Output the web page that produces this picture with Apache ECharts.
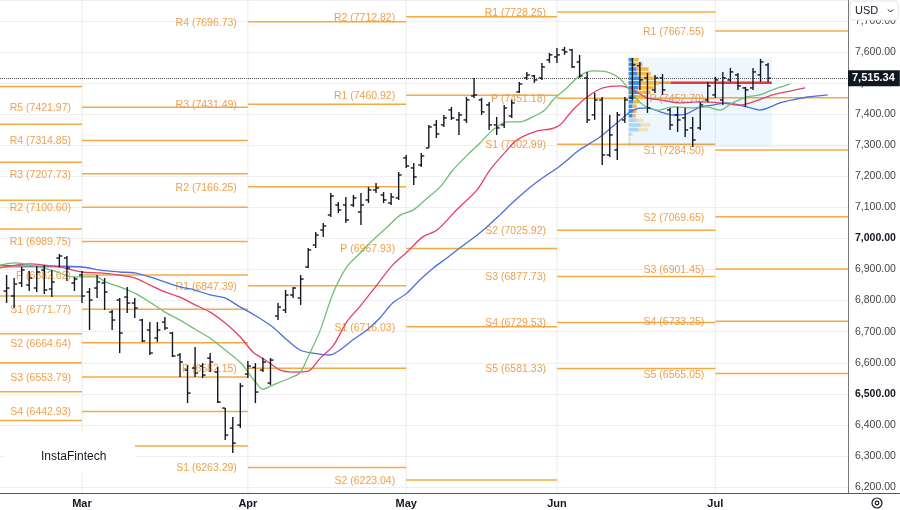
<!DOCTYPE html>
<html>
<head>
<meta charset="utf-8">
<script src="https://cdn.jsdelivr.net/npm/echarts@6/dist/echarts.min.js"></script>
<style>
  html, body { margin: 0; padding: 0; background: #fff; }
  #chart { width: 900px; height: 510px; }
</style>
</head>
<body>
<div id="chart"></div>
<script>
// bar index 0 = first trading day of March
var monthNames = ['Mar', 'Apr', 'May', 'Jun', 'Jul'];
var monthStart = [0, 22, 43, 63, 84];

var firstBar = -10;
var opens = [6830.7, 6814.7, 6856.5, 6850.1, 6840.4, 6898.4, 6837.2, 6937.0, 6937.0, 6856.5,
  6882.3, 6827.5, 6840.4, 6856.5, 6763.2, 6801.8, 6811.4, 6792.1, 6737.4, 6705.3, 6679.5, 6731.0,
  6695.6, 6624.8, 6576.5, 6583.0, 6589.4, 6615.1, 6570.1, 6454.2, 6389.8, 6399.5,
  6563.7, 6585.0, 6576.5, 6534.7, 6750.3, 6769.6, 6817.9, 6808.2, 6908.0, 6978.9, 7027.1,
  7075.4, 7107.6, 7107.6, 7107.6, 7085.1, 7123.7, 7155.9, 7139.8, 7114.0, 7130.1,
  7258.9, 7226.7, 7236.3, 7291.0, 7365.1, 7365.1, 7413.4, 7381.2, 7381.2, 7458.4,
  7445.5, 7429.4, 7365.1, 7365.1, 7394.0, 7471.3, 7516.3, 7522.8, 7516.3, 7574.3,
  7583.9, 7606.5, 7606.5, 7567.8, 7516.3, 7397.3, 7445.5, 7268.5, 7284.6, 7381.2,
  7452.0, 7555.0, 7516.3, 7477.7, 7516.3, 7413.4, 7397.3, 7387.6, 7355.4, 7355.4, 7445.5,
  7461.6, 7445.5, 7509.9, 7526.0, 7484.2, 7484.2, 7526.0, 7558.2];
var highs = [6882.3, 6872.6, 6908.0, 6895.1, 6911.2, 6914.5, 6898.4, 6949.9, 6943.4, 6875.8,
  6895.1, 6840.4, 6882.3, 6872.6, 6769.6, 6808.2, 6843.6, 6808.2, 6740.7, 6731.0, 6731.0, 6747.1,
  6698.9, 6631.2, 6592.6, 6650.5, 6599.0, 6631.2, 6586.2, 6454.2, 6425.2, 6534.7,
  6605.5, 6599.0, 6615.1, 6615.1, 6792.1, 6834.0, 6843.6, 6882.3, 6969.2, 7020.7, 7049.6,
  7146.2, 7117.2, 7133.3, 7139.8, 7146.2, 7165.5, 7178.4, 7149.4, 7146.2, 7213.8,
  7268.5, 7242.8, 7274.9, 7365.1, 7381.2, 7397.3, 7423.0, 7406.9, 7455.2, 7516.3,
  7452.0, 7439.1, 7390.8, 7429.4, 7445.5, 7503.5, 7535.7, 7526.0, 7564.6, 7596.8,
  7612.9, 7616.1, 7609.7, 7590.4, 7535.7, 7468.1, 7455.2, 7397.3, 7406.9, 7455.2,
  7580.7, 7567.8, 7532.4, 7526.0, 7529.2, 7419.8, 7423.0, 7419.8, 7390.8, 7439.1, 7503.5,
  7519.6, 7535.7, 7548.5, 7532.4, 7487.4, 7548.5, 7577.5, 7564.6];
var lows = [6792.1, 6776.1, 6843.6, 6830.7, 6827.5, 6821.1, 6811.4, 6908.0, 6862.9, 6830.7,
  6792.1, 6705.3, 6808.2, 6769.6, 6705.3, 6631.2, 6760.0, 6743.9, 6666.7, 6624.8, 6666.7, 6705.3,
  6618.4, 6554.0, 6470.3, 6554.0, 6550.8, 6570.1, 6470.3, 6351.2, 6309.4, 6389.8,
  6550.8, 6470.3, 6570.1, 6528.2, 6737.4, 6760.0, 6808.2, 6785.7, 6904.8, 6969.2, 7004.6,
  7069.0, 7081.8, 7049.6, 7101.1, 7043.2, 7114.0, 7146.2, 7114.0, 7107.6, 7123.7,
  7226.7, 7172.0, 7229.9, 7291.0, 7323.2, 7358.6, 7381.2, 7332.9, 7371.5, 7452.0,
  7397.3, 7349.0, 7332.9, 7355.4, 7387.6, 7468.1, 7509.9, 7500.3, 7509.9, 7564.6,
  7564.6, 7590.4, 7548.5, 7516.3, 7371.5, 7381.2, 7236.3, 7262.1, 7252.4, 7371.5,
  7445.5, 7477.7, 7403.7, 7468.1, 7461.6, 7349.0, 7342.5, 7326.5, 7294.3, 7349.0, 7439.1,
  7452.0, 7429.4, 7503.5, 7477.7, 7423.0, 7477.7, 7503.5, 7503.5];
var closes = [6840.4, 6853.3, 6898.4, 6872.6, 6891.9, 6834.0, 6859.7, 6943.4, 6904.8, 6869.4,
  6814.7, 6801.8, 6859.7, 6827.5, 6737.4, 6695.6, 6792.1, 6776.1, 6669.9, 6631.2, 6705.3, 6711.7,
  6621.6, 6602.3, 6502.5, 6566.9, 6560.4, 6602.3, 6473.6, 6367.3, 6341.6, 6525.0,
  6589.4, 6505.7, 6602.3, 6608.7, 6779.3, 6817.9, 6840.4, 6869.4, 6962.8, 7011.0, 7040.0,
  7136.5, 7091.5, 7059.3, 7130.1, 7107.6, 7155.9, 7162.3, 7123.7, 7133.3, 7204.1,
  7233.1, 7197.7, 7265.3, 7358.6, 7336.1, 7387.6, 7387.6, 7397.3, 7445.5, 7461.6,
  7406.9, 7365.1, 7355.4, 7419.8, 7435.9, 7497.0, 7526.0, 7509.9, 7551.8, 7590.4,
  7590.4, 7600.0, 7551.8, 7522.8, 7381.2, 7445.5, 7268.5, 7332.9, 7397.3, 7445.5,
  7558.2, 7509.9, 7419.8, 7516.3, 7477.7, 7365.1, 7381.2, 7349.0, 7316.8, 7429.4, 7490.6,
  7509.9, 7516.3, 7535.7, 7490.6, 7477.7, 7535.7, 7567.8, 7515.34];

// alligator-style moving averages, [bar index, price]
var maGreen = [[-10.9,6914],[-8.9,6921],[-6.9,6914],[-4.0,6898],[-1.1,6876],[2.0,6876],[3.1,6860],
  [5.0,6844],[7.0,6824],[9.0,6795],[11.0,6763],[13.0,6737],[15.0,6708],[17.0,6679],[19.0,6641],
  [21.1,6599],[22.0,6570],[23.1,6535],[24.0,6515],[25.3,6528],[27.6,6551],[28.9,6567],[29.8,6609],
  [31.6,6705],[33.3,6824],[35.1,6908],[36.9,6953],[38.6,6995],[40.5,7037],[42.2,7075],[43.9,7091],
  [45.8,7130],[47.5,7166],[49.2,7220],[51.1,7268],[52.8,7307],[54.5,7349],[56.4,7375],[58.1,7375],
  [59.8,7391],[61.4,7413],[62.5,7446],[64.3,7484],[66.0,7523],[67.8,7539],[69.6,7536],[71.4,7513],
  [73.1,7462],[74.4,7430],[76.3,7413],[78.4,7423],[81.0,7420],[82.9,7423],[84.6,7413],[86.3,7436],
  [88.2,7455],[89.9,7462],[91.6,7478],[93.9,7497]];
var maRed = [[-10.9,6905],[-6.9,6918],[-4.9,6914],[-2.9,6908],[0,6892],[2.4,6889],[5.0,6882],
  [7.0,6873],[9.0,6850],[11.0,6828],[13.0,6811],[15.0,6786],[17.0,6763],[19.0,6728],[21.0,6683],
  [22.7,6634],[24.3,6609],[26.3,6576],[28.0,6570],[30.0,6573],[31.6,6615],[33.3,6654],[35.1,6731],
  [36.9,6782],[39.1,6850],[41.2,6914],[43.1,6956],[45.2,7005],[47.1,7027],[49.7,7092],[52.4,7156],
  [54.1,7220],[56.4,7285],[57.7,7317],[60.3,7345],[62.1,7352],[63.4,7365],[65.1,7413],[67.0,7455],
  [69.1,7484],[71.4,7491],[73.1,7478],[74.9,7452],[76.7,7446],[79.3,7436],[82.0,7439],[84.6,7436],
  [87.3,7429],[89.0,7439],[91.6,7462],[93.9,7474],[95.9,7484]];
var maBlue = [[-10.9,6914],[-6.9,6911],[-2.9,6911],[0,6908],[2.4,6898],[5.0,6892],[7.0,6889],
  [9.0,6876],[11.0,6860],[13.0,6844],[15.0,6834],[17.0,6818],[19.0,6808],[21.0,6779],[22.9,6753],
  [25.3,6715],[27.2,6673],[28.9,6641],[30.6,6631],[32.9,6625],[34.2,6641],[35.9,6673],[37.8,6705],
  [39.5,6744],[41.2,6792],[43.1,6824],[44.8,6866],[46.6,6905],[48.4,6937],[50.1,6969],[51.9,7001],
  [53.7,7037],[55.4,7075],[57.2,7117],[59.0,7156],[60.7,7188],[63.4,7233],[66.0,7285],[68.7,7326],
  [71.4,7381],[73.1,7413],[74.9,7420],[76.7,7407],[78.4,7397],[80.2,7401],[82.0,7423],[83.7,7429],
  [85.5,7436],[88.2,7423],[89.9,7413],[92.6,7436],[94.3,7446],[96.2,7455],[98.9,7462]];

// monthly pivot levels
var pivotNames = ['R5', 'R4', 'R3', 'R2', 'R1', 'P', 'S1', 'S2', 'S3', 'S4', 'S5'];
var pivotFeb = [7489, 7367, 7245, 7123, 7030, 6908, 6815, 6693, 6600, 6507, 6414];
var pivotMar = [7421.97, 7314.85, 7207.73, 7100.60, 6989.75, 6882.62, 6771.77, 6664.64, 6553.79, 6442.93, 6332.09];
var pivotApr = [null, 7696.73, 7431.49, 7166.25, 6847.39, 6582.15, 6263.29, null, null, null, null];
var pivotMay = [null, null, null, 7712.82, 7460.92, 6967.93, 6716.03, 6223.04, null, null, null];
var pivotJun = [null, null, null, null, 7728.25, 7451.18, 7302.99, 7025.92, 6877.73, 6729.53, 6581.33];
var pivotJul = [null, null, null, null, 7667.55, 7452.70, 7284.50, 7069.65, 6901.45, 6733.25, 6565.05];
var pivotFrom = [-20, 0, 22, 43, 63, 84];
var pivotTo = [0, 22, 43, 63, 84, 110];

// volume profile over the last range
var vpStart = 72.5, vpEnd = 91.5, vpHigh = 7581, vpLow = 7294, vpStep = 15;
var vpPrice = [7575, 7560, 7545, 7530, 7515, 7500, 7485, 7470, 7455, 7440, 7425, 7410, 7395, 7380, 7365, 7350, 7335, 7320, 7305];
var vpUp    = [5, 6, 8, 9, 11, 12, 10, 9, 7, 5, 4, 5, 4, 8, 12, 10, 2, 1, 1];
var vpDown  = [5, 8, 12, 13, 16, 18, 15, 13, 11, 6, 4, 3, 3, 7, 10, 9, 2, 1, 1];
var vpFaded = [0, 0, 0, 0, 0, 0, 0, 0, 0, 0, 0, 0, 0, 1, 1, 1, 1, 1, 1];
var pocPrice = 7501, pocSplit = 78.1;

var FONT = '"Liberation Sans", Arial, sans-serif';
var lastPrice = closes[closes.length - 1];

var barData = [];
for (var k = 0; k < opens.length; k++) {
  barData.push([firstBar + k, opens[k], highs[k], lows[k], closes[k]]);
}

var pivotItems = [];
[pivotFeb, pivotMar, pivotApr, pivotMay, pivotJun, pivotJul].forEach(function (lv, m) {
  lv.forEach(function (v, j) {
    if (v == null) return;
    pivotItems.push({ value: [pivotFrom[m], pivotTo[m], v], text: pivotNames[j] + ' (' + v.toFixed(2) + ')' });
  });
});

function fmtPrice(v) {
  var s = v.toFixed(2).split('.');
  return s[0].replace(/\B(?=(\d{3})+(?!\d))/g, ',') + '.' + s[1];
}

function renderBar(params, api) {
  var i = api.value(0);
  var o = api.coord([i, api.value(1)]);
  var h = api.coord([i, api.value(2)]);
  var l = api.coord([i, api.value(3)]);
  var c = api.coord([i, api.value(4)]);
  var x = o[0];
  var st = { stroke: '#131722', lineWidth: 1.4 };
  return { type: 'group', children: [
    { type: 'line', shape: { x1: x, y1: h[1], x2: x, y2: l[1] }, style: st },
    { type: 'line', shape: { x1: x - 3, y1: o[1], x2: x, y2: o[1] }, style: st },
    { type: 'line', shape: { x1: x, y1: c[1], x2: x + 3, y2: c[1] }, style: st }
  ] };
}

function renderPivot(params, api) {
  var s = api.coord([api.value(0), api.value(2)]);
  var e = api.coord([api.value(1), api.value(2)]);
  return { type: 'group', children: [
    { type: 'line', shape: { x1: s[0], y1: s[1], x2: e[0], y2: e[1] },
      style: { stroke: '#f5a846', lineWidth: 1.5 } },
    { type: 'text', x: s[0] - 11, y: s[1] + 1,
      style: { text: pivotItems[params.dataIndex].text, align: 'right', verticalAlign: 'middle',
        fill: '#eda04c', font: '10.5px ' + FONT } }
  ] };
}

function renderMonthLine(params, api) {
  var p = api.coord([api.value(0), vpLow]);
  var cs = params.coordSys;
  return { type: 'line', shape: { x1: p[0], y1: cs.y, x2: p[0], y2: cs.y + cs.height },
    style: { stroke: '#ebebeb', lineWidth: 1 } };
}

function renderBox(params, api) {
  var a = api.coord([vpStart, vpHigh]);
  var b = api.coord([vpEnd, vpLow]);
  return { type: 'rect', shape: { x: a[0], y: a[1], width: b[0] - a[0], height: b[1] - a[1] },
    style: { fill: 'rgba(33,150,243,0.08)' } };
}

function renderVP(params, api) {
  var i = params.dataIndex;
  var top = api.coord([vpStart, vpPrice[i] + vpStep / 2]);
  var bot = api.coord([vpStart, vpPrice[i] - vpStep / 2]);
  var h = bot[1] - top[1] - 1;
  var op = vpFaded[i] ? 0.35 : 1;
  return { type: 'group', children: [
    { type: 'rect', shape: { x: top[0], y: top[1] + 0.5, width: vpUp[i], height: h },
      style: { fill: '#3a8ee6', opacity: op } },
    { type: 'rect', shape: { x: top[0] + vpUp[i], y: top[1] + 0.5, width: vpDown[i], height: h },
      style: { fill: '#f6b843', opacity: op } }
  ] };
}

function renderPoc(params, api) {
  var a = api.coord([vpStart, pocPrice]);
  var m = api.coord([pocSplit, pocPrice]);
  var b = api.coord([vpEnd, pocPrice]);
  return { type: 'group', children: [
    { type: 'line', shape: { x1: a[0], y1: a[1], x2: m[0], y2: m[1] }, style: { stroke: '#f39c2b', lineWidth: 2.5 } },
    { type: 'line', shape: { x1: m[0], y1: m[1], x2: b[0], y2: b[1] }, style: { stroke: '#e53935', lineWidth: 2.5 } }
  ] };
}

var chart = echarts.init(document.getElementById('chart'));
chart.setOption({
  animation: false,
  backgroundColor: '#ffffff',
  textStyle: { fontFamily: FONT },
  grid: { left: 0, right: 52, top: 0, bottom: 17 },
  xAxis: {
    type: 'value', min: -10.875, max: 101.6,
    axisLine: { show: true, onZero: false, lineStyle: { color: '#555', width: 1 } },
    axisTick: { show: false },
    splitLine: { show: false },
    axisLabel: {
      customValues: monthStart,
      formatter: function (v) { var j = monthStart.indexOf(v); return j < 0 ? '' : monthNames[j]; },
      color: '#131722', fontSize: 11, fontWeight: 'bold', margin: 5, fontFamily: FONT
    }
  },
  yAxis: {
    type: 'value', position: 'right', min: 6181, max: 7767, splitNumber: 16, scale: true,
    axisLine: { show: true, onZero: false, lineStyle: { color: '#777', width: 1 } },
    axisTick: { show: false },
    splitLine: { lineStyle: { color: '#efefef', width: 1 } },
    axisLabel: {
      showMinLabel: false, showMaxLabel: false, margin: 7,
      color: '#444', fontSize: 10.5, fontFamily: FONT,
      formatter: function (v) { return v % 500 === 0 ? '{b|' + fmtPrice(v) + '}' : fmtPrice(v); },
      rich: { b: { fontWeight: 'bold', color: '#131722', fontSize: 10.5, fontFamily: FONT } }
    }
  },
  series: [
    { type: 'custom', z: 1, clip: true, silent: true, renderItem: renderMonthLine,
      data: monthStart.map(function (m) { return [m]; }) },
    { type: 'custom', z: 2, clip: true, silent: true, renderItem: renderPivot, data: pivotItems },
    { type: 'custom', z: 3, clip: true, silent: true, renderItem: renderBox, data: [[vpStart, vpHigh]] },
    { type: 'custom', z: 4, clip: true, silent: true, renderItem: renderPoc, data: [[vpStart, pocPrice]] },
    { type: 'custom', z: 5, clip: true, silent: true, renderItem: renderVP,
      data: vpPrice.map(function (p) { return [vpStart, p]; }) },
    { type: 'line', z: 6, data: maBlue, showSymbol: false, smooth: 0.3, silent: true,
      lineStyle: { color: '#4a6fdc', width: 1.3 } },
    { type: 'line', z: 6, data: maRed, showSymbol: false, smooth: 0.3, silent: true,
      lineStyle: { color: '#e0416b', width: 1.3 } },
    { type: 'line', z: 6, data: maGreen, showSymbol: false, smooth: 0.3, silent: true,
      lineStyle: { color: '#6fbf72', width: 1.3 },
      markLine: {
        silent: true, symbol: ['none', 'none'], animation: false,
        lineStyle: { type: 'dotted', color: '#555', width: 1 },
        label: {
          position: 'end', distance: 0, formatter: fmtPrice(lastPrice),
          backgroundColor: '#131722', color: '#fff', fontSize: 11, fontWeight: 'bold',
          fontFamily: FONT, padding: [3, 5, 2, 4]
        },
        data: [{ yAxis: lastPrice }]
      } },
    { type: 'custom', z: 7, clip: true, silent: true, renderItem: renderBar, data: barData }
  ],
  graphic: [
    { type: 'rect', z: 100, shape: { x: 4, y: 432, width: 131, height: 40 }, style: { fill: '#fff' } },
    { type: 'text', z: 101, x: 41, y: 457,
      style: { text: 'InstaFintech', fill: '#131722', font: '12px ' + FONT, verticalAlign: 'middle' } },
    { type: 'rect', z: 100, shape: { x: 850, y: 1, width: 48, height: 19, r: 3 },
      style: { fill: '#fff', stroke: '#e0e3eb', lineWidth: 1 } },
    { type: 'text', z: 101, x: 855, y: 11,
      style: { text: 'USD', fill: '#131722', font: '11px ' + FONT, verticalAlign: 'middle' } },
    { type: 'polyline', z: 101, shape: { points: [[888, 9.5], [890.5, 12], [893, 9.5]] },
      style: { stroke: '#131722', lineWidth: 1, fill: null } },
    { type: 'line', z: 100, shape: { x1: 848, y1: 493.5, x2: 900, y2: 493.5 }, style: { stroke: '#555', lineWidth: 1 } },
    { type: 'circle', z: 100, shape: { cx: 877, cy: 503, r: 5 }, style: { fill: 'none', stroke: '#131722', lineWidth: 1.2 } },
    { type: 'circle', z: 100, shape: { cx: 877, cy: 503, r: 1.8 }, style: { fill: 'none', stroke: '#131722', lineWidth: 1.2 } }
  ]
});
</script>
</body>
</html>
